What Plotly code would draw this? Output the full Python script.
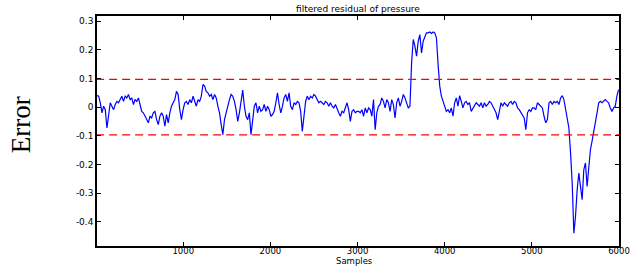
import plotly.graph_objects as go

# Residual values, one every 19 samples starting at sample 10
residual = [
    # ~10 .. ~1000
    0.040, 0.038, 0.015, -0.020, 0.003, -0.009, -0.073, -0.020, 0.015, 0.003,
    -0.009, 0.009, 0.020, 0.015, 0.026, 0.038, 0.020, 0.038, 0.032, 0.044,
    0.026, 0.032, 0.009, 0.026, 0.020, 0.032, 0.009, -0.015, -0.020, -0.032,
    -0.044, -0.055, -0.032, -0.038, -0.020, -0.015, -0.044, -0.061, -0.032, -0.020,
    -0.032, -0.067, -0.026, -0.055, -0.020, 0.003, 0.015, 0.026, 0.055, 0.044,
    -0.009, -0.044,
    # ~1000 .. ~2000
    -0.009, 0.015, 0.020, 0.009, 0.026, 0.015, 0.038, 0.020, 0.003, 0.026,
    0.020, 0.038, 0.079, 0.073, 0.055, 0.050, 0.038, 0.044, 0.026, 0.044,
    0.032, 0.003, -0.020, -0.061, -0.096, -0.044, -0.015, 0.003, 0.026, 0.044,
    0.038, 0.020, -0.009, -0.050, -0.020, 0.020, 0.059, 0.003, -0.032, -0.044,
    -0.020, -0.096, -0.055, 0.003, 0.015, -0.020, 0.003, -0.015, -0.009, 0.009,
    -0.015, 0.003, -0.009,
    # ~2000 .. ~3000
    -0.032, -0.026, -0.015, 0.015, 0.050, 0.009, -0.020, 0.003, 0.032, 0.044,
    0.020, 0.050, 0.003, -0.009, 0.015, 0.009, 0.020, 0.015, -0.015, -0.085,
    -0.020, 0.020, 0.038, 0.026, 0.038, 0.032, 0.044, 0.038, 0.026, 0.015,
    0.020, 0.015, 0.009, 0.020, 0.015, 0.003, 0.015, 0.003, -0.003, 0.009,
    -0.009, -0.020, -0.032, -0.015, -0.020, -0.003, 0.015, -0.009, -0.050, -0.015,
    -0.009, -0.020, -0.015,
    # ~3000 .. ~4000
    -0.015, -0.020, -0.009, -0.032, -0.003, -0.020, -0.003, -0.009, -0.032, 0.026,
    -0.079, -0.020, 0.003, 0.009, 0.032, 0.020, -0.003, 0.026, 0.015, -0.015,
    0.026, 0.009, -0.038, 0.015, 0.032, 0.003, 0.020, 0.044, 0.032, 0.015,
    -0.003, 0.003, 0.154, 0.236, 0.213, 0.178, 0.230, 0.253, 0.189, 0.230,
    0.248, 0.259, 0.259, 0.262, 0.257, 0.262, 0.259, 0.242, 0.149, 0.073,
    0.038, 0.020, -0.003,
    # ~4000 .. ~5000
    -0.015, -0.009, -0.020, -0.003, -0.032, 0.015, 0.032, 0.003, 0.040, 0.020,
    -0.003, 0.015, 0.020, 0.009, 0.015, -0.015, -0.003, 0.003, 0.015, 0.009,
    0.003, 0.015, -0.003, 0.015, 0.003, 0.009, 0.020, 0.015, 0.003, -0.009,
    -0.020, -0.044, -0.020, 0.015, 0.003, 0.015, 0.009, 0.003, 0.015, 0.020,
    0.009, 0.020, 0.015, -0.003, -0.009, -0.020, -0.032, -0.038, -0.079, -0.020,
    -0.009, -0.015, -0.003,
    # ~5000 .. 6000
    -0.003, -0.009, 0.015, 0.009, 0.003, -0.003, -0.032, -0.055, -0.044, 0.015,
    0.020, 0.009, 0.020, 0.015, 0.020, 0.009, 0.032, 0.040, 0.026, -0.009,
    -0.044, -0.073, -0.160, -0.265, -0.440, -0.382, -0.289, -0.230, -0.277, -0.323,
    -0.219, -0.195, -0.277, -0.207, -0.149, -0.119, -0.090, -0.055, -0.020, 0.015,
    0.020, 0.015, 0.020, 0.026, 0.020, 0.015, -0.003, -0.015, -0.003, 0.003,
    0.038, 0.061,
]
sample_start = 10
sample_step = 19
samples = [sample_start + sample_step * i for i in range(len(residual))]

threshold_upper = 0.097
threshold_lower = -0.097
threshold_x = [0, 6000]

x_ticks = [1000, 2000, 3000, 4000, 5000, 6000]
x_tick_labels = ["1000", "2000", "3000", "4000", "5000", "6000"]
y_ticks = [-0.4, -0.3, -0.2, -0.1, 0, 0.1, 0.2, 0.3]
y_tick_labels = ["-0.4", "-0.3", "-0.2", "-0.1", "0", "0.1", "0.2", "0.3"]

small_font = dict(family="DejaVu Sans", size=9, color="black")
xtick_font = dict(family="DejaVu Sans", size=8.5, color="black")
xlabel_font = dict(family="DejaVu Sans", size=8.5, color="black")

fig = go.Figure()
fig.add_trace(go.Scatter(x=samples, y=residual, mode="lines",
                         line=dict(color="#0000ff", width=1.2), showlegend=False))
for th in (threshold_upper, threshold_lower):
    fig.add_trace(go.Scatter(x=threshold_x, y=[th, th], mode="lines",
                             line=dict(color="#ff0000", width=1.3, dash="8px,5px"),
                             showlegend=False))

axis_common = dict(showgrid=False, zeroline=False, showline=True, linecolor="black",
                   linewidth=1.5, mirror="ticks", ticks="inside", ticklen=4,
                   tickcolor="black")

fig.update_layout(
    width=642, height=275,
    margin=dict(l=97, r=20, t=16, b=29),
    paper_bgcolor="white", plot_bgcolor="white",
    title=dict(text="filtered residual of pressure", xref="paper", x=0.5, xanchor="center",
               yref="container", y=1 - 9 / 275, yanchor="middle", font=small_font),
    xaxis=dict(range=[10, 6000], tickvals=x_ticks, ticktext=x_tick_labels,
               ticklabelstandoff=-4, tickfont=xtick_font, **axis_common),
    yaxis=dict(range=[-0.485, 0.318], tickvals=y_ticks, ticktext=y_tick_labels,
               tickfont=small_font, **axis_common),
    annotations=[
        dict(text="Error", xref="paper", yref="paper", x=-0.145, y=0.526,
             xanchor="center", yanchor="middle", textangle=-90, showarrow=False,
             font=dict(family="Liberation Serif", size=27, color="black")),
        dict(text="Samples", xref="paper", yref="paper", x=0.493, y=-0.065,
             xanchor="center", yanchor="middle", showarrow=False, font=xlabel_font),
    ],
)

fig.write_html("out.html", config={"displayModeBar": False},
               post_script="document.body.style.margin='0';")
